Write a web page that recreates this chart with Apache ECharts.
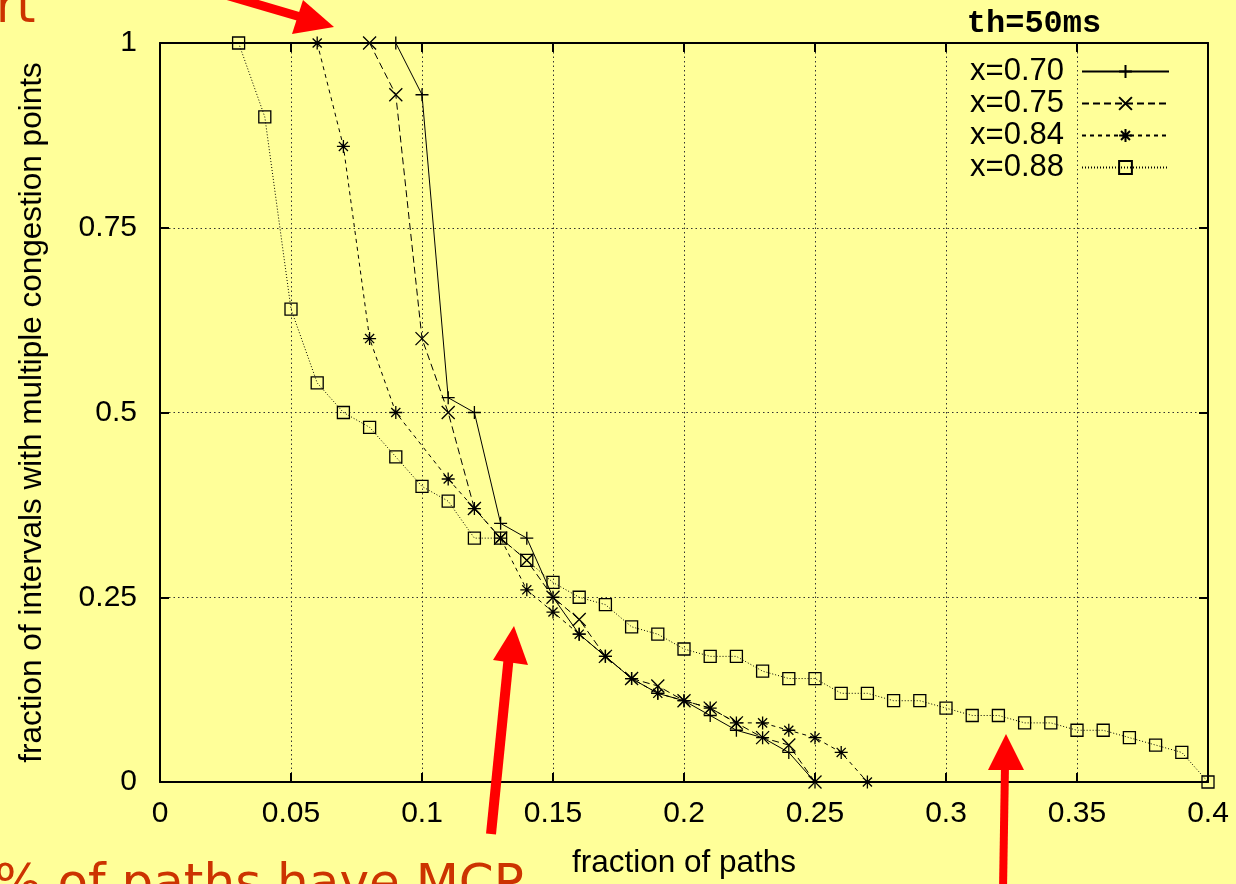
<!DOCTYPE html>
<html>
<head>
<meta charset="utf-8">
<script src="https://cdn.jsdelivr.net/npm/echarts@6/dist/echarts.min.js"></script>
<style>
html,body{margin:0;padding:0;background:#ffff99;}
#c{width:1236px;height:884px;}
</style>
</head>
<body>
<div id="c"></div>
<script>
// ---- data ----
const seriesNames = ['x=0.70', 'x=0.75', 'x=0.84', 'x=0.88'];
const x70 = [0.09,0.10,0.11,0.12,0.13,0.14,0.15,0.16,0.17,0.18,0.19,0.20,0.21,0.22,0.23,0.24,0.25];
const y70 = [1,0.93,0.52,0.50,0.35,0.33,0.25,0.20,0.17,0.14,0.12,0.11,0.09,0.07,0.06,0.04,0];
const x75 = [0.08,0.09,0.10,0.11,0.12,0.13,0.14,0.15,0.16,0.17,0.18,0.19,0.20,0.21,0.22,0.23,0.24,0.25];
const y75 = [1,0.93,0.60,0.50,0.37,0.33,0.30,0.25,0.22,0.17,0.14,0.13,0.11,0.10,0.08,0.06,0.05,0];
const x84 = [0.06,0.07,0.08,0.09,0.11,0.12,0.13,0.14,0.15,0.16,0.17,0.18,0.19,0.20,0.21,0.22,0.23,0.24,0.25,0.26,0.27];
const y84 = [1,0.86,0.60,0.50,0.41,0.37,0.33,0.26,0.23,0.20,0.17,0.14,0.12,0.11,0.10,0.08,0.08,0.07,0.06,0.04,0];
const x88 = [0.03,0.04,0.05,0.06,0.07,0.08,0.09,0.10,0.11,0.12,0.13,0.14,0.15,0.16,0.17,0.18,0.19,0.20,0.21,0.22,0.23,0.24,0.25,0.26,0.27,0.28,0.29,0.30,0.31,0.32,0.33,0.34,0.35,0.36,0.37,0.38,0.39,0.40];
const y88 = [1,0.90,0.64,0.54,0.50,0.48,0.44,0.40,0.38,0.33,0.33,0.30,0.27,0.25,0.24,0.21,0.20,0.18,0.17,0.17,0.15,0.14,0.14,0.12,0.12,0.11,0.11,0.10,0.09,0.09,0.08,0.08,0.07,0.07,0.06,0.05,0.04,0];
const titleText = 'th=50ms';
const xAxisName = 'fraction of paths';
const yAxisName = 'fraction of intervals with multiple congestion points';

// ---- styles ----
const pair = (xs, ys) => xs.map((x, i) => [x, ys[i]]);
const symbols = [
  'path://M0,6H12M6,0V12',
  'path://M0,0L12,12M12,0L0,12',
  'path://M0,6H12M6,0V12M1.8,1.8L10.2,10.2M10.2,1.8L1.8,10.2',
  'path://M0,0H12V12H0Z'
];
const dashes = ['solid', [7, 4], [4, 4], [1, 2]];
const sizes = [13, 13, 13, 12];
const datas = [pair(x70, y70), pair(x75, y75), pair(x84, y84), pair(x88, y88)];

const fmt = v => String(+(+v).toFixed(2));
const font = 'Liberation Sans';

const series = seriesNames.map((name, i) => ({
  name,
  type: 'line',
  data: datas[i],
  symbol: symbols[i],
  symbolSize: sizes[i],
  showAllSymbol: true,
  lineStyle: { color: '#000', width: 1, type: dashes[i] },
  itemStyle: { color: 'rgba(0,0,0,0)', borderColor: '#000', borderWidth: 1.3 },
  emphasis: { disabled: true },
  silent: true,
  animation: false,
  z: 10 - i
}));

const chart = echarts.init(document.getElementById('c'), null, { renderer: 'canvas' });
const baseX = { type: 'value', min: 0, max: 0.4, interval: 0.05 };
const baseY = { type: 'value', min: 0, max: 1, interval: 0.25 };
chart.setOption({
  backgroundColor: '#ffff99',
  animation: false,
  title: {
    text: titleText,
    left: 1029, top: 3, textAlign: 'center',
    textStyle: { fontFamily: 'Liberation Mono', fontWeight: 'bold', fontSize: 32, color: '#000' }
  },
  legend: {
    data: seriesNames,
    orient: 'vertical',
    right: 61, top: 51,
    align: 'right',
    itemWidth: 87, itemHeight: 16, itemGap: 1,
    textStyle: { fontFamily: font, fontSize: 31, color: '#000', lineHeight: 30, padding: [0, 13, 0, 0] },
    selectedMode: false
  },
  grid: { left: 160, right: 28, top: 43, bottom: 96, containLabel: false },
  xAxis: [
    Object.assign({}, baseX, {
      position: 'bottom',
      name: xAxisName, nameLocation: 'middle', nameGap: 65,
      nameTextStyle: { fontFamily: font, fontSize: 31.5, color: '#000' },
      axisLine: { show: true, onZero: false, lineStyle: { color: '#000', width: 2 } },
      axisTick: { show: true, inside: true, length: 9, lineStyle: { color: '#000', width: 2 } },
      axisLabel: { formatter: fmt, margin: 17, fontFamily: font, fontSize: 30, color: '#000' },
      splitLine: { show: true, lineStyle: { color: '#333', width: 1, type: [1.5, 3] } }
    }),
    Object.assign({}, baseX, {
      position: 'top',
      axisLine: { show: true, onZero: false, lineStyle: { color: '#000', width: 2 } },
      axisTick: { show: true, inside: true, length: 9, lineStyle: { color: '#000', width: 2 } },
      axisLabel: { show: false },
      splitLine: { show: false }
    })
  ],
  yAxis: [
    Object.assign({}, baseY, {
      position: 'left',
      name: yAxisName, nameLocation: 'middle', nameGap: 112,
      nameTextStyle: { fontFamily: font, fontSize: 31.5, color: '#000' },
      axisLine: { show: true, onZero: false, lineStyle: { color: '#000', width: 2 } },
      axisTick: { show: true, inside: true, length: 9, lineStyle: { color: '#000', width: 2 } },
      axisLabel: { formatter: fmt, margin: 23, fontFamily: font, fontSize: 30, color: '#000' },
      splitLine: { show: true, lineStyle: { color: '#333', width: 1, type: [1.5, 3] } }
    }),
    Object.assign({}, baseY, {
      position: 'right',
      axisLine: { show: true, onZero: false, lineStyle: { color: '#000', width: 2 } },
      axisTick: { show: true, inside: true, length: 9, lineStyle: { color: '#000', width: 2 } },
      axisLabel: { show: false },
      splitLine: { show: false }
    })
  ],
  series,
  graphic: [
    // slide overlay annotations
    { type: 'text', x: -4, y: 9, z: 100,
      style: { text: 'rt', font: '49px "DejaVu Sans"', fill: '#cc3300', verticalAlign: 'middle', align: 'left' } },
    { type: 'text', x: -6, y: 886, z: 100,
      style: { text: '% of paths have MCP', font: '50px "DejaVu Sans"', fill: '#cc3300', verticalAlign: 'middle', align: 'left' } },
    // arrows
    { type: 'line', z: 100, shape: { x1: 212, y1: -9, x2: 304, y2: 18 }, style: { stroke: '#ff0000', lineWidth: 9 } },
    { type: 'polygon', z: 100, shape: { points: [[334, 27], [292, 34], [303, 0]] }, style: { fill: '#ff0000' } },
    { type: 'line', z: 100, shape: { x1: 491, y1: 834, x2: 509, y2: 655 }, style: { stroke: '#ff0000', lineWidth: 10 } },
    { type: 'polygon', z: 100, shape: { points: [[514, 626], [493, 660], [528, 665]] }, style: { fill: '#ff0000' } },
    { type: 'line', z: 100, shape: { x1: 1003, y1: 890, x2: 1005, y2: 765 }, style: { stroke: '#ff0000', lineWidth: 8 } },
    { type: 'polygon', z: 100, shape: { points: [[1006, 734], [988, 770], [1024, 770]] }, style: { fill: '#ff0000' } }
  ]
});
</script>
</body>
</html>
